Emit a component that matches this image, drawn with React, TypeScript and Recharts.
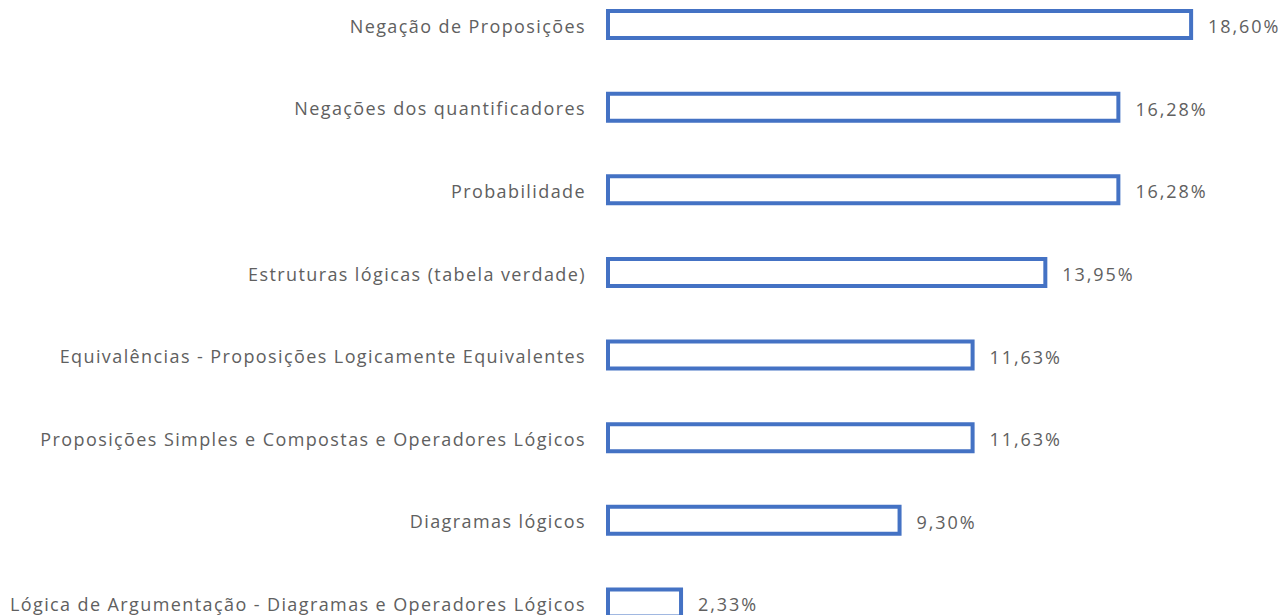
import React from 'react';
import { BarChart, Bar, XAxis, YAxis, LabelList } from 'recharts';

const topics = [
  'Negação de Proposições',
  'Negações dos quantificadores',
  'Probabilidade',
  'Estruturas lógicas (tabela verdade)',
  'Equivalências - Proposições Logicamente Equivalentes',
  'Proposições Simples e Compostas e Operadores Lógicos',
  'Diagramas lógicos',
  'Lógica de Argumentação - Diagramas e Operadores Lógicos',
];

const shares = [18.6, 16.28, 16.28, 13.95, 11.63, 11.63, 9.3, 2.33];

const data = topics.map((topic, i) => ({ topic, share: shares[i] }));

const fmt = (v: number) => v.toFixed(2).replace('.', ',') + '%';

const tickStyle = {
  fontFamily: '"Open Sans", sans-serif',
  fontSize: 18,
  fill: '#606060',
  letterSpacing: 1.4,
};

// value label drawn right of the bar end
const ValueLabel = (props: any) => {
  const { x, y, width, height, value } = props;
  return (
    <text
      x={Number(x) + Number(width) + 17}
      y={Number(y) + Number(height) / 2 + 1.5}
      dominantBaseline="central"
      fontFamily='"Open Sans", sans-serif'
      fontSize={18}
      fill="#606060"
      letterSpacing={1.9}
    >
      {fmt(Number(value))}
    </text>
  );
};

const App: React.FC = () => {
  return (
    <div style={{ position: 'absolute', left: 0, top: -17, width: 1285, height: 661 }}>
      <BarChart
        layout="vertical"
        width={1285}
        height={661}
        data={data}
        margin={{ top: 0, right: 50, bottom: 0, left: 0 }}
        barSize={27}
      >
        <XAxis type="number" domain={[0, 20]} hide />
        <YAxis
          type="category"
          dataKey="topic"
          width={608}
          axisLine={false}
          tickLine={false}
          tickSize={0}
          tickMargin={22}
          tick={{ ...tickStyle, dy: 2 }}
        />
        <Bar
          dataKey="share"
          fill="#ffffff"
          stroke="#4472C4"
          strokeWidth={4}
          isAnimationActive={false}
        >
          <LabelList dataKey="share" content={ValueLabel} />
        </Bar>
      </BarChart>
    </div>
  );
};

export default App;
